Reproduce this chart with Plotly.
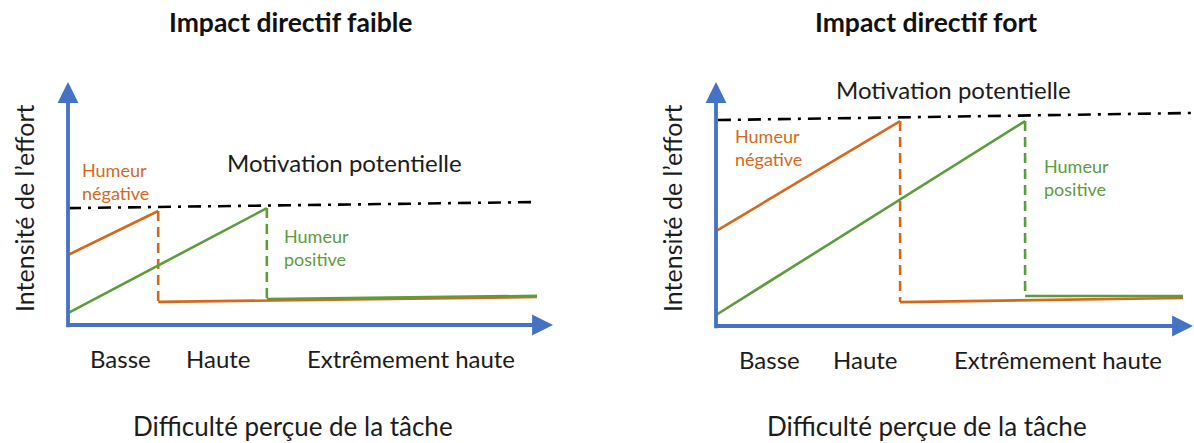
import plotly.graph_objects as go

# ---------------- data (conceptual units: x 0-10, y 0-10) ----------------
categories = ["Basse", "Haute", "Extrêmement haute"]
panel_titles = ["Impact directif faible", "Impact directif fort"]
x_title = "Difficulté perçue de la tâche"
y_title = "Intensité de l’effort"

# Left panel: Impact directif faible
faible_tick_x = [1.09, 3.11, 7.07]
faible_neg_rise_x = [0, 1.86]
faible_neg_rise_y = [2.88, 4.69]
faible_neg_drop_x = [1.86, 1.86]
faible_neg_drop_y = [4.69, 0.95]
faible_neg_flat_x = [1.86, 9.67]
faible_neg_flat_y = [0.95, 1.15]
faible_pos_rise_x = [0, 4.10]
faible_pos_rise_y = [0.49, 4.81]
faible_pos_drop_x = [4.10, 4.10]
faible_pos_drop_y = [4.81, 1.07]
faible_pos_flat_x = [4.10, 9.67]
faible_pos_flat_y = [1.07, 1.20]
faible_motiv_x = [0, 9.69]
faible_motiv_y = [4.81, 5.06]

# Right panel: Impact directif fort
fort_tick_x = [1.13, 3.14, 7.17]
fort_neg_rise_x = [0, 3.86]
fort_neg_rise_y = [3.89, 8.40]
fort_neg_drop_x = [3.86, 3.86]
fort_neg_drop_y = [8.40, 0.98]
fort_neg_flat_x = [3.86, 9.79]
fort_neg_flat_y = [0.98, 1.15]
fort_pos_rise_x = [0, 6.48]
fort_pos_rise_y = [0.45, 8.40]
fort_pos_drop_x = [6.48, 6.48]
fort_pos_drop_y = [8.40, 1.23]
fort_pos_flat_x = [6.48, 9.79]
fort_pos_flat_y = [1.23, 1.23]
fort_motiv_x = [0.04, 10.0]
fort_motiv_y = [8.44, 8.73]

# ---------------- styling ----------------
W, H = 1194, 443
ORANGE = "#D2691E"
GREEN = "#5E9B3C"
BLUE = "#4472C4"
TEXT = "#1c1c1c"
FONT = "Lato"

# pixel geometry of each panel: origin (px), px per unit
panels = {
    "left": dict(ox=68, oy=325, sx=48.5, sy=24.3, xr=[-1, 10.5], yr=[-2, 10.5]),
    "right": dict(ox=716, oy=326, sx=47.7, sy=24.4, xr=[-1, 10.0], yr=[-2, 10.5]),
}


def domains(p):
    x0 = p["ox"] + p["xr"][0] * p["sx"]
    x1 = p["ox"] + p["xr"][1] * p["sx"]
    ytop = p["oy"] - p["yr"][1] * p["sy"]
    ybot = p["oy"] - p["yr"][0] * p["sy"]
    return [x0 / W, x1 / W], [1 - ybot / H, 1 - ytop / H]


fig = go.Figure()


def seg(x, y, color, dash, xa, ya, width=2.6):
    fig.add_trace(go.Scatter(x=x, y=y, mode="lines", xaxis=xa, yaxis=ya,
                             line=dict(color=color, width=width, dash=dash),
                             hoverinfo="skip", showlegend=False))


DROP = "10px,6px"
MOTIV = "13px,7px,3px,7px"

for xa, ya, d in [
    ("x", "y", dict(nr=(faible_neg_rise_x, faible_neg_rise_y), nd=(faible_neg_drop_x, faible_neg_drop_y),
                    nf=(faible_neg_flat_x, faible_neg_flat_y), pr=(faible_pos_rise_x, faible_pos_rise_y),
                    pd=(faible_pos_drop_x, faible_pos_drop_y), pf=(faible_pos_flat_x, faible_pos_flat_y),
                    m=(faible_motiv_x, faible_motiv_y))),
    ("x2", "y2", dict(nr=(fort_neg_rise_x, fort_neg_rise_y), nd=(fort_neg_drop_x, fort_neg_drop_y),
                      nf=(fort_neg_flat_x, fort_neg_flat_y), pr=(fort_pos_rise_x, fort_pos_rise_y),
                      pd=(fort_pos_drop_x, fort_pos_drop_y), pf=(fort_pos_flat_x, fort_pos_flat_y),
                      m=(fort_motiv_x, fort_motiv_y))),
]:
    seg(*d["m"], "#000000", MOTIV, xa, ya, width=2.6)
    seg(*d["nr"], ORANGE, "solid", xa, ya)
    seg(*d["nd"], ORANGE, DROP, xa, ya)
    seg(*d["nf"], ORANGE, "solid", xa, ya)
    seg(*d["pr"], GREEN, "solid", xa, ya)
    seg(*d["pd"], GREEN, DROP, xa, ya)
    seg(*d["pf"], GREEN, "solid", xa, ya)

annotations = []
# axes arrows
for xr_, yr_, xtip in [("x", "y", 10.0), ("x2", "y2", 10.0)]:
    annotations.append(dict(x=0, y=10, ax=0, ay=-0.15, xref=xr_, yref=yr_, axref=xr_, ayref=yr_,
                            showarrow=True, arrowhead=2, arrowsize=1.1, arrowwidth=3.8,
                            arrowcolor=BLUE, text=""))
    annotations.append(dict(x=xtip, y=0, ax=-0.05, ay=0, xref=xr_, yref=yr_, axref=xr_, ayref=yr_,
                            showarrow=True, arrowhead=2, arrowsize=1.1, arrowwidth=3.8,
                            arrowcolor=BLUE, text=""))

# tick labels
for xr_, yr_, ticks in [("x", "y", faible_tick_x), ("x2", "y2", fort_tick_x)]:
    for t, lab in zip(ticks, categories):
        annotations.append(dict(x=t, y=-1.36, xref=xr_, yref=yr_, text=lab, showarrow=False,
                                xanchor="center", yanchor="middle",
                                font=dict(family=FONT, size=24, color=TEXT)))

# series labels
annotations += [
    dict(x=0.25, y=5.9, xref="x", yref="y", text="Humeur<br>négative", showarrow=False,
         xanchor="left", yanchor="middle", align="left", font=dict(family=FONT, size=18, color=ORANGE)),
    dict(x=3.24, y=6.67, xref="x", yref="y", text="Motivation potentielle", showarrow=False,
         xanchor="left", yanchor="middle", font=dict(family=FONT, size=24, color=TEXT)),
    dict(x=4.41, y=3.2, xref="x", yref="y", text="Humeur<br>positive", showarrow=False,
         xanchor="left", yanchor="middle", align="left", font=dict(family=FONT, size=18, color=GREEN)),
    dict(x=0.36, y=7.3, xref="x2", yref="y2", text="Humeur<br>négative", showarrow=False,
         xanchor="left", yanchor="middle", align="left", font=dict(family=FONT, size=18, color=ORANGE)),
    dict(x=4.98, y=9.7, xref="x2", yref="y2", text="Motivation potentielle", showarrow=False,
         xanchor="center", yanchor="middle", font=dict(family=FONT, size=24, color=TEXT)),
    dict(x=6.83, y=6.1, xref="x2", yref="y2", text="Humeur<br>positive", showarrow=False,
         xanchor="left", yanchor="middle", align="left", font=dict(family=FONT, size=18, color=GREEN)),
]

# titles and axis titles (paper coords)
for cx, cy, txt in [(291, 22, panel_titles[0]), (926, 22, panel_titles[1])]:
    annotations.append(dict(x=cx / W, y=1 - cy / H, xref="paper", yref="paper", text=f"<b>{txt}</b>",
                            showarrow=False, xanchor="center", yanchor="middle",
                            font=dict(family=FONT, size=26.5, color="#111111")))
for cx in (293, 927):
    annotations.append(dict(x=cx / W, y=1 - 426 / H, xref="paper", yref="paper", text=x_title,
                            showarrow=False, xanchor="center", yanchor="middle",
                            font=dict(family=FONT, size=26, color=TEXT)))
for cx, cy in ((24, 208), (672, 208)):
    annotations.append(dict(x=cx / W, y=1 - cy / H, xref="paper", yref="paper", text=y_title,
                            showarrow=False, textangle=-90, xanchor="center", yanchor="middle",
                            font=dict(family=FONT, size=25, color=TEXT)))

dl = domains(panels["left"])
dr = domains(panels["right"])
hidden = dict(visible=False, showgrid=False, zeroline=False, fixedrange=True)
fig.update_layout(
    width=W, height=H, autosize=False,
    margin=dict(l=0, r=0, t=0, b=0),
    paper_bgcolor="white", plot_bgcolor="rgba(0,0,0,0)",
    showlegend=False,
    xaxis=dict(domain=dl[0], range=panels["left"]["xr"], anchor="y", **hidden),
    yaxis=dict(domain=dl[1], range=panels["left"]["yr"], anchor="x", **hidden),
    xaxis2=dict(domain=dr[0], range=panels["right"]["xr"], anchor="y2", **hidden),
    yaxis2=dict(domain=dr[1], range=panels["right"]["yr"], anchor="x2", **hidden),
    annotations=annotations,
)

fig.write_html("out.html", config={"displayModeBar": False},
               post_script="document.body.style.margin='0';document.body.style.overflow='hidden';")
